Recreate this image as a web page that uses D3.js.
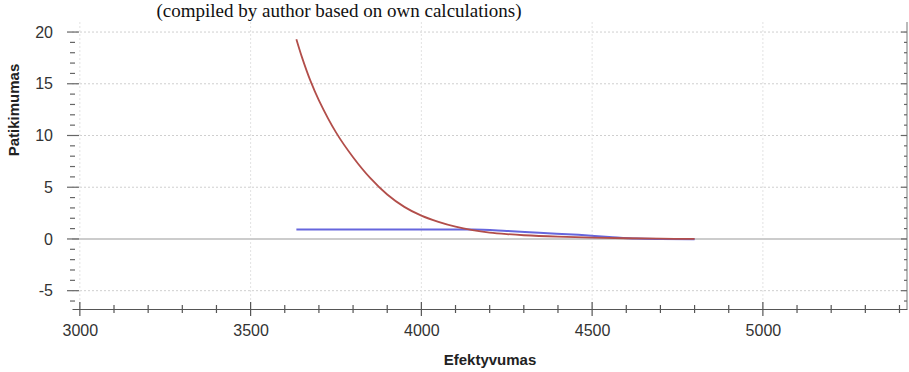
<!DOCTYPE html>
<html><head><meta charset="utf-8">
<script src="https://cdn.jsdelivr.net/npm/d3@7/dist/d3.min.js"></script>
<style>body{margin:0;background:#fff}svg{display:block}</style>
</head><body><svg id="c" width="909" height="372"></svg>
<script>
const captionText = "(compiled by author based on own calculations)";
const xTitle = "Efektyvumas";
const yTitle = "Patikimumas";
const xTickValues = [3000, 3500, 4000, 4500, 5000];
const yTickValues = [-5, 0, 5, 10, 15, 20];
const redX = [3634,3650,3675,3700,3750,3800,3850,3900,3950,4000,4050,4100,4150,4200,4250,4300,4400,4500,4600,4700,4800];
const redY = [19.3,17.6,15.3,13.4,10.3,7.9,5.9,4.3,3.1,2.25,1.65,1.18,0.85,0.62,0.47,0.36,0.22,0.13,0.07,0.03,0.0];
const blueX = [3634,4150,4250,4345,4460,4550,4630,4700,4800];
const blueY = [0.92,0.92,0.78,0.6,0.4,0.2,0.04,0.0,-0.02];

const svg = d3.select("#c");
const x = d3.scaleLinear().domain([2977, 5422]).range([72, 907]);
const y = d3.scaleLinear().domain([-6.77, 20.97]).range([309, 22]);
const font = "'Liberation Sans', Arial, sans-serif";
const fmt = d => String(d);

// caption
svg.append("text").attr("x", 339).attr("y", 17).attr("text-anchor", "middle")
  .attr("font-family", "'Liberation Serif','Times New Roman',serif").attr("font-size", 19)
  .attr("fill", "#111").text(captionText);

// grid
const g = svg.append("g");
g.selectAll(".hg").data(yTickValues.filter(d => d !== 0)).join("line")
  .attr("x1", 72).attr("x2", 907).attr("y1", d => y(d)).attr("y2", d => y(d))
  .attr("stroke", "#cfcfcf").attr("stroke-width", 1).attr("stroke-dasharray", "2,2");
g.selectAll(".vg").data(xTickValues).join("line")
  .attr("x1", d => x(d)).attr("x2", d => x(d)).attr("y1", 22).attr("y2", 309)
  .attr("stroke", "#e2e2e2").attr("stroke-width", 1).attr("stroke-dasharray", "2,2");
g.append("line").attr("x1", 72).attr("x2", 907).attr("y1", y(0)).attr("y2", y(0))
  .attr("stroke", "#cccccc").attr("stroke-width", 2);

// x axis
const xAxis = d3.axisBottom(x).tickValues(xTickValues).tickSize(0).tickPadding(16).tickFormat(fmt);
const xa = svg.append("g").attr("transform", "translate(0,309)").call(xAxis);
xa.select(".domain").attr("stroke", "#555").attr("stroke-width", 1.2);
xa.selectAll("text").attr("font-family", font).attr("font-size", 16).attr("fill", "#333");
const xMinor = d3.range(3000, 5401, 100);
svg.append("g").selectAll("line").data(xMinor).join("line")
  .attr("x1", d => x(d)).attr("x2", d => x(d))
  .attr("y1", d => d % 500 === 0 ? 302 : 305).attr("y2", d => d % 500 === 0 ? 316 : 313)
  .attr("stroke", "#555").attr("stroke-width", 1.2);

// y axis (ticks only on left)
const yAxis = d3.axisLeft(y).tickValues(yTickValues).tickSize(0).tickPadding(25).tickFormat(fmt);
const ya = svg.append("g").attr("transform", "translate(78,0)").call(yAxis);
ya.select(".domain").remove();
ya.selectAll("text").attr("font-family", font).attr("font-size", 16).attr("fill", "#333");
const yMinor = d3.range(-6, 21, 1);
svg.append("g").selectAll("line").data(yMinor).join("line")
  .attr("x1", d => d % 5 === 0 ? 67 : 70).attr("x2", d => d % 5 === 0 ? 79 : 75)
  .attr("y1", d => y(d)).attr("y2", d => y(d))
  .attr("stroke", "#666").attr("stroke-width", 1.2);

// right axis
svg.append("line").attr("x1", 907).attr("x2", 907).attr("y1", 22).attr("y2", 309)
  .attr("stroke", "#777").attr("stroke-width", 1);
svg.append("g").selectAll("line").data(yMinor).join("line")
  .attr("x1", d => d % 5 === 0 ? 901 : 904).attr("x2", 907)
  .attr("y1", d => y(d)).attr("y2", d => y(d))
  .attr("stroke", "#666").attr("stroke-width", 1.2);

// titles
svg.append("text").attr("x", 490).attr("y", 365).attr("text-anchor", "middle")
  .attr("font-family", font).attr("font-size", 15).attr("font-weight", "bold").attr("fill", "#222").text(xTitle);
svg.append("text").attr("transform", "translate(19,110) rotate(-90)").attr("text-anchor", "middle")
  .attr("font-family", font).attr("font-size", 15).attr("font-weight", "bold").attr("fill", "#222").text(yTitle);

// series
const redData = redX.map((d, i) => [d, redY[i]]);
const blueData = blueX.map((d, i) => [d, blueY[i]]);
const line = d3.line().x(d => x(d[0])).y(d => y(d[1]));
svg.append("path").datum(blueData).attr("d", line.curve(d3.curveMonotoneX)).attr("fill", "none")
  .attr("stroke", "#6666dd").attr("stroke-width", 2);
svg.append("path").datum(redData).attr("d", line.curve(d3.curveCatmullRom)).attr("fill", "none")
  .attr("stroke", "#b24e4a").attr("stroke-width", 1.8);
</script></body></html>
